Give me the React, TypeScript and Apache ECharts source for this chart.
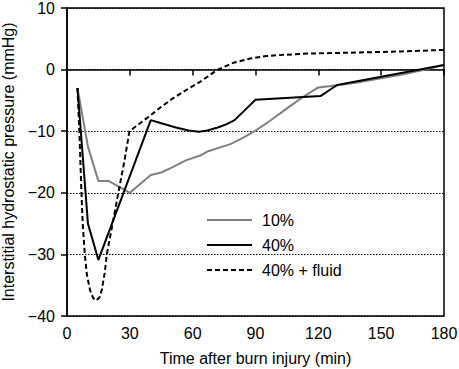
import React, { useEffect, useRef } from "react";
import * as echarts from "echarts";

const seriesNames = ["10%", "40%", "40% + fluid"];

const time10 = [5, 10, 15, 20, 30, 40, 45, 50, 57, 64, 67, 78, 84, 90, 97, 105, 112, 120, 130, 140, 150, 160, 170, 180];
const pressure10 = [-3, -12.5, -18.1, -18.1, -20, -17.1, -16.7, -15.9, -14.7, -13.9, -13.3, -12.1, -11.1, -9.9, -8.3, -6.3, -4.6, -2.9, -2.5, -2.0, -1.4, -0.8, -0.05, 0.75];

const time40 = [5, 10, 15, 40, 45, 52, 58, 63, 67, 72, 76, 80, 90, 121, 129, 180];
const pressure40 = [-3, -25, -30.9, -8.2, -8.7, -9.4, -9.9, -10.1, -9.9, -9.4, -8.9, -8.2, -4.9, -4.3, -2.5, 0.75];

const timeFluid = [5, 6, 6.9, 7.5, 8.5, 9.5, 11, 12.5, 14, 15.5, 16.6, 18, 19, 21.5, 24.5, 27.5, 29.8, 40, 44, 50, 57, 63.5, 71.5, 79.4, 87.4, 95, 103.3, 115, 135, 160, 180];
const pressureFluid = [-3, -11, -20, -25, -30, -33.3, -35.8, -37.1, -37.5, -37, -35.8, -33, -30, -25.5, -20, -14.7, -10, -7.4, -6.3, -4.8, -3.3, -2.0, -0.1, 1.1, 1.8, 2.2, 2.4, 2.6, 2.75, 2.95, 3.2];

const xTicks = { min: 0, max: 180, interval: 30 };
const yTicks = { min: -40, max: 10, interval: 10 };

const pair = (xs: number[], ys: number[]) => xs.map((x, i) => [x, ys[i]]);

const FONT = "'Liberation Sans', Arial, Helvetica, sans-serif";

export default function App() {
  const ref = useRef<HTMLDivElement>(null);
  useEffect(() => {
    if (!ref.current) return;
    const chart = echarts.init(ref.current, null, { renderer: "svg" });
    const fmt = (v: number) => (v < 0 ? "\u2212" + Math.abs(v) : String(v));
    chart.setOption({
      animation: false,
      backgroundColor: "#fff",
      textStyle: { fontFamily: FONT },
      grid: {
        left: 67,
        right: 15,
        top: 8,
        bottom: 53,
        containLabel: false,
        outerBoundsMode: "none",
        show: true,
        borderColor: "#000",
        borderWidth: 1.5,
        backgroundColor: "transparent",
      },
      legend: {
        orient: "vertical",
        left: 206,
        top: 212,
        padding: 0,
        itemWidth: 45,
        itemHeight: 14,
        itemGap: 9,
        data: seriesNames,
        itemStyle: { color: "transparent", borderColor: "transparent", borderWidth: 0, opacity: 0 },
        textStyle: { fontFamily: FONT, fontSize: 16, color: "#000", padding: [0, 0, 0, 5] },
      },
      xAxis: {
        type: "value",
        min: xTicks.min,
        max: xTicks.max,
        interval: xTicks.interval,
        name: "Time after burn injury (min)",
        nameLocation: "middle",
        nameGap: 34,
        nameTextStyle: { fontFamily: FONT, fontSize: 16, color: "#000" },
        axisLine: { show: true, lineStyle: { color: "#000", width: 1.5 } },
        axisTick: { show: true, length: 6, lineStyle: { color: "#000", width: 1.5 } },
        axisLabel: { fontFamily: FONT, fontSize: 16, color: "#000", margin: 9 },
        splitLine: { show: false },
      },
      yAxis: {
        type: "value",
        min: yTicks.min,
        max: yTicks.max,
        interval: yTicks.interval,
        name: "Interstitial hydrostatic pressure (mmHg)",
        nameLocation: "middle",
        nameGap: 48,
        nameTextStyle: { fontFamily: FONT, fontSize: 16, color: "#000" },
        axisLine: { show: true, lineStyle: { color: "#000", width: 1.5 } },
        axisTick: { show: true, length: 6, lineStyle: { color: "#000", width: 1.5 } },
        axisLabel: { fontFamily: FONT, fontSize: 16, color: "#000", margin: 12, formatter: fmt },
        splitLine: { show: true, lineStyle: { color: "#000", width: 1.2, type: [1.5, 1.5] } },
      },
      series: [
        {
          name: seriesNames[0],
          type: "line",
          data: pair(time10, pressure10),
          symbol: "none",
          lineStyle: { color: "#808080", width: 2 },
          itemStyle: { color: "#808080" },
        },
        {
          name: seriesNames[1],
          type: "line",
          data: pair(time40, pressure40),
          symbol: "none",
          lineStyle: { color: "#000", width: 2 },
          itemStyle: { color: "#000" },
        },
        {
          name: seriesNames[2],
          type: "line",
          data: pair(timeFluid, pressureFluid),
          symbol: "none",
          lineStyle: { color: "#000", width: 2, type: [5, 3] },
          itemStyle: { color: "#000" },
        },
      ],
    });
    return () => chart.dispose();
  }, []);
  return <div ref={ref} style={{ width: 459, height: 369, position: "absolute", left: 0, top: 0 }} />;
}
